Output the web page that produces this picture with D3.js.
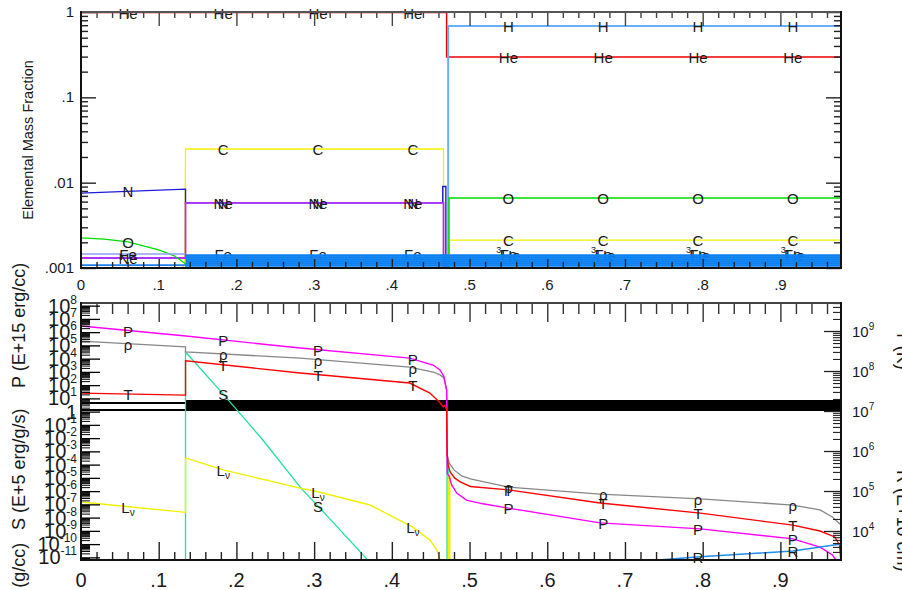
<!DOCTYPE html>
<html><head><meta charset="utf-8">
<script src="https://cdn.jsdelivr.net/npm/d3@7"></script>
<style>
body{margin:0;background:#fff}
svg{display:block}
text{font-family:"Liberation Sans",Arial,Helvetica,sans-serif;fill:#1a1a1a}
</style>
</head><body>
<svg id="c" width="902" height="590"></svg>
<script>
// ---------------- DATA ----------------
const xTicks = [0,0.1,0.2,0.3,0.4,0.5,0.6,0.7,0.8,0.9];
const xTickLabels = ["0",".1",".2",".3",".4",".5",".6",".7",".8",".9"];
const topYTicks = [1,0.1,0.01,0.001];
const topYTickLabels = ["1",".1",".01",".001"];
const leftExponents = [8,7,6,5,4,3,2,1,0,-1,-2,-3,-4,-5,-6,-7,-8,-9,-10,-11];
const rightExponents = [9,8,7,6,5,4];
const labelX = [0.0605,0.183,0.305,0.427,0.550,0.672,0.794,0.916];

// top panel: elemental mass fractions [mass coordinate, fraction]
const heData = [[0,0.985],[0.4705,0.985],[0.4705,0.296],[0.978,0.296]];
const hData  = [[0.4725,0.0005],[0.4725,0.685],[0.978,0.685]];
const cData  = [[0.1,0.0005],[0.1335,0.0011],[0.1345,0.0248],[0.4665,0.0248],[0.4665,0.0005],[0.4738,0.0005],[0.4738,0.00212],[0.978,0.00212]];
const nData  = [[0,0.00755],[0.1345,0.0084],[0.1345,0.0058],[0.4655,0.0058],[0.4655,0.0090],[0.4695,0.0090],[0.4695,0.0005]];
const neData = [[0,0.00131],[0.1345,0.00131],[0.1345,0.0058],[0.4665,0.0058],[0.4665,0.0005]];
const oData  = [[0,0.00225],[0.03,0.00218],[0.0605,0.00202],[0.1,0.00163],[0.12,0.00139],[0.1345,0.00112],[0.136,0.0009]];
const o2Data = [[0.4735,0.0005],[0.4735,0.0066],[0.978,0.0066]];
const feCoreData = [[0,0.00146],[0.1345,0.00146]];
const feCore2Data = [[0,0.00108],[0.1345,0.00108]];
const feBandValues = [0.00140,0.00133,0.00126,0.00119,0.00113,0.00107];
const feBandRange = [0.1345,0.978];

// bottom panel [mass coordinate, value]
const pData = [[0,2.9e6],[0.135,5.1e5],[0.282,6.3e4],[0.423,1.1e4],[0.453,3.3e3],[0.462,1.4e3],[0.467,4.4e2],[0.4705,43],
  [0.4712,2.3e-5],[0.474,1.2e-5],[0.477,2.9e-6],[0.4835,7.2e-7],[0.496,2.1e-7],[0.517,1.1e-7],[0.548,5.4e-8],
  [0.668,4.0e-9],[0.797,1.4e-9],[0.916,2.5e-10],[0.951,6.0e-11],[0.967,1.5e-11],[0.973,4.5e-12]];
const rhoData = [[0,2.1e5],[0.1345,7.6e4],[0.1345,3.2e4],[0.282,1.1e4],[0.423,2.3e3],[0.453,9.8e2],[0.462,5.9e2],[0.467,3.5e2],[0.4705,43],
  [0.4712,5.4e-4],[0.474,1.3e-4],[0.480,4.0e-5],[0.490,1.4e-5],[0.501,8.3e-6],[0.550,2.0e-6],[0.668,6.0e-7],
  [0.797,2.6e-7],[0.916,8.9e-8],[0.951,3.8e-8],[0.967,1.1e-8],[0.978,2.8e-9]];
const tData = [[0,2.8e7],[0.1345,2.5e7],[0.1345,1.8e8],[0.282,8.9e7],[0.423,5.0e7],[0.449,2.8e7],[0.462,1.6e7],[0.466,1.26e7],
  [0.4685,1.4e7],[0.4705,1.07e7],[0.4712,7.9e5],[0.4725,4.5e5],[0.475,3.0e5],[0.481,2.1e5],[0.488,1.7e5],[0.501,1.3e5],
  [0.550,1.07e5],[0.668,5.0e4],[0.797,2.8e4],[0.916,1.4e4],[0.951,1.0e4],[0.970,7.1e3],[0.976,4.5e3],[0.978,1.7e3]];
const sData = [[0.1345,3e-12],[0.1345,3.2e4],[0.183,21],[0.234,7.2e-3],[0.282,2.0e-6],[0.325,4.0e-9],[0.374,3e-12]];
const sSpikeData = [[0.4718,2.2e-4],[0.4718,3e-12]];
const lnuData = [[0,1.5e-7],[0.1345,2.5e-8],[0.1345,3.2e-4],[0.183,4.0e-5],[0.282,1.7e-6],[0.305,9.0e-7],[0.372,8.9e-8],
  [0.427,1.9e-9],[0.449,2.0e-10],[0.458,3.6e-11],[0.463,4e-12]];
const lnuSpikeData = [[0.4735,1.7e-5],[0.4735,3e-12]];
const rData = [[0.72,5e-12],[0.797,1.1e-11],[0.916,3.0e-11],[0.978,1.0e-10]];
const epsCoreLines = [4.5,1.33];
const epsCoreRange = [0,0.1345];
const epsBandX = [0.1345,0.978];
const epsBandLow = [1.12,1.12];
const epsBandHigh = [7.6,7.6];

// ---------------- SCALES ----------------
const svg = d3.select("#c");
const x = d3.scaleLinear().domain([0,0.978]).range([81,841]);
const yTop = d3.scaleLog().domain([0.001,1]).range([268,12]);
const yL = d3.scaleLog().domain([Math.pow(10,-11.2),Math.pow(10,8.2)]).range([560,303]);
const yR = d3.scaleLog().domain([Math.pow(10,3.275),Math.pow(10,9.7)]).range([560,303]);

const defs = svg.append("defs");
defs.append("clipPath").attr("id","clipTop").append("rect").attr("x",81).attr("y",11).attr("width",760).attr("height",258);
defs.append("clipPath").attr("id","clipBot").append("rect").attr("x",81).attr("y",303).attr("width",760).attr("height",257);

function valAt(data,xq){
  for(let i=0;i<data.length-1;i++){
    const [x0,v0]=data[i],[x1,v1]=data[i+1];
    if(x1>x0 && xq>=x0 && xq<=x1){
      const t=(xq-x0)/(x1-x0);
      return Math.pow(10,Math.log10(v0)+t*(Math.log10(v1)-Math.log10(v0)));
    }
  }
  return null;
}

function drawLine(g,data,ys,color,w){
  const line = d3.line().x(d=>x(d[0])).y(d=>ys(d[1]));
  g.append("path").attr("d",line(data)).attr("fill","none").attr("stroke",color).attr("stroke-width",w||1.3);
}

function drawLabels(g,data,ys,text,idx,sub){
  idx.forEach(i=>{
    const xv=labelX[i]; const v=valAt(data,xv); if(v==null) return;
    const t=g.append("text").attr("x",x(xv)).attr("y",ys(v)).attr("text-anchor","middle")
      .attr("dominant-baseline","central").attr("font-size",15);
    t.append("tspan").text(text);
    if(sub) t.append("tspan").attr("font-size",10).attr("dy",5).text(sub);
  });
}

function tickGroup(axisFn,scale,values,size,tr,color,w){
  const g=svg.append("g").attr("transform",tr)
    .call(axisFn(scale).tickValues(values).tickSize(size).tickFormat(()=>""));
  g.select(".domain").remove();
  g.selectAll("line").attr("stroke",color||"#222").attr("stroke-width",w||1.4);
  return g;
}

// ---------------- TOP PANEL ----------------
const gTop = svg.append("g").attr("clip-path","url(#clipTop)");
drawLine(gTop,heData,yTop,"#ee0000",1.5);
drawLine(gTop,hData,yTop,"#66b0ff",2);
drawLine(gTop,cData,yTop,"#f2f200",1.3);
drawLine(gTop,nData,yTop,"#1c1cdc",1.4);
drawLine(gTop,neData,yTop,"#b030ff",1.8);
drawLine(gTop,oData,yTop,"#00dd00",1.3);
drawLine(gTop,o2Data,yTop,"#00dd00",1.5);
drawLine(gTop,feCoreData,yTop,"#8f9cff",1.3);
drawLine(gTop,feCore2Data,yTop,"#1f7ff0",1.6);

const gTopLab = svg.append("g");
drawLabels(gTopLab,heData,yTop,"He",[0,1,2,3,4,5,6,7]);
drawLabels(gTopLab,hData,yTop,"H",[4,5,6,7]);
drawLabels(gTopLab,cData,yTop,"C",[1,2,3,4,5,6,7]);
drawLabels(gTopLab,nData,yTop,"N",[0,1,2,3]);
drawLabels(gTopLab,neData,yTop,"Ne",[0,1,2,3]);
drawLabels(gTopLab,oData,yTop,"O",[0]);
drawLabels(gTopLab,o2Data,yTop,"O",[4,5,6,7]);
drawLabels(gTopLab,feCoreData,yTop,"Fe",[0]);
// Fe labels over the band region
[1,2,3,4,5,6,7].forEach(i=>{
  gTopLab.append("text").attr("x",x(labelX[i])).attr("y",yTop(feBandValues[0])-1).attr("text-anchor","middle")
    .attr("dominant-baseline","central").attr("font-size",15).text("Fe");
  if(i>=4){
    const t=gTopLab.append("text").attr("x",x(labelX[i])).attr("y",yTop(feBandValues[0])-1).attr("text-anchor","middle")
      .attr("dominant-baseline","central").attr("font-size",15);
    t.append("tspan").attr("font-size",9).attr("dy",-5).text("3");
    t.append("tspan").attr("dy",5).text("He");
  }
});
// Fe band (drawn over labels)
const gBand = svg.append("g").attr("clip-path","url(#clipTop)");
feBandValues.forEach(v=>{
  drawLine(gBand,[[feBandRange[0],v],[feBandRange[1],v]],yTop,"#0a80f2",2.6);
});

// top panel axes
tickGroup(d3.axisTop,x,xTicks.slice(1),-14,"translate(0,12)","#444");
tickGroup(d3.axisTop,x,d3.range(0.02,0.98,0.02).filter(v=>Math.abs(v*10-Math.round(v*10))>1e-6),-6,"translate(0,12)","#444");
tickGroup(d3.axisBottom,x,xTicks.slice(1),-9,"translate(0,268)");
tickGroup(d3.axisBottom,x,d3.range(0.02,0.98,0.02).filter(v=>Math.abs(v*10-Math.round(v*10))>1e-6),-6,"translate(0,268)");
const topMinor=[]; [-3,-2,-1].forEach(k=>{for(let m=2;m<=9;m++) topMinor.push(m*Math.pow(10,k));});
tickGroup(d3.axisLeft,yTop,topYTicks,-15,"translate(81,0)");
tickGroup(d3.axisLeft,yTop,topMinor,-7,"translate(81,0)");
tickGroup(d3.axisRight,yTop,topYTicks,-15,"translate(841,0)");
tickGroup(d3.axisRight,yTop,topMinor,-7,"translate(841,0)");
svg.append("line").attr("x1",81).attr("x2",841).attr("y1",12).attr("y2",12).attr("stroke","#555").attr("stroke-width",2);
svg.append("line").attr("x1",81).attr("x2",841).attr("y1",268).attr("y2",268).attr("stroke","#111").attr("stroke-width",2);
svg.append("line").attr("x1",81).attr("x2",81).attr("y1",11).attr("y2",269).attr("stroke","#111").attr("stroke-width",2);
svg.append("line").attr("x1",841).attr("x2",841).attr("y1",11).attr("y2",269).attr("stroke","#111").attr("stroke-width",2);

topYTicks.forEach((v,i)=>{
  svg.append("text").attr("x",74).attr("y",yTop(v)+5).attr("text-anchor","end").attr("font-size",15).text(topYTickLabels[i]);
});
xTicks.forEach((v,i)=>{
  svg.append("text").attr("x",x(v)).attr("y",290).attr("text-anchor","middle").attr("font-size",15).text(xTickLabels[i]);
});
svg.append("text").attr("transform","translate(33,140) rotate(-90)").attr("text-anchor","middle")
  .attr("font-size",14.5).text("Elemental Mass Fraction");

// ---------------- BOTTOM PANEL ----------------
const gBot = svg.append("g").attr("clip-path","url(#clipBot)");
// energy generation band
epsCoreLines.forEach(v=>drawLine(gBot,[[epsCoreRange[0],v],[epsCoreRange[1],v]],yL,"#000",2));
gBot.append("path").datum(epsBandX.map((xv,i)=>[xv,epsBandLow[i],epsBandHigh[i]]))
  .attr("d",d3.area().x(d=>x(d[0])).y0(d=>yL(d[1])).y1(d=>yL(d[2])))
  .attr("fill","#000");
drawLine(gBot,sData,yL,"#22e0a0",1.3);
drawLine(gBot,sSpikeData,yL,"#22e0a0",2.5);
drawLine(gBot,lnuData,yL,"#f0f000",1.4);
drawLine(gBot,lnuSpikeData,yL,"#f0f000",3);
drawLine(gBot,rhoData,yL,"#888888",1.3);
drawLine(gBot,pData,yL,"#ff00ff",1.4);
drawLine(gBot,tData,yR,"#ff0000",1.4);
drawLine(gBot,rData,yL,"#1e8cf0",1.5);

const gBotLab = svg.append("g");
drawLabels(gBotLab,pData,yL,"P",[0,1,2,3,4,5,6,7]);
drawLabels(gBotLab,rhoData,yL,"ρ",[0,1,2,3,4,5,6,7]);
drawLabels(gBotLab,tData,yR,"T",[0,1,2,3,4,5,6,7]);
drawLabels(gBotLab,sData,yL,"S",[1,2]);
drawLabels(gBotLab,lnuData,yL,"L","ν"==="" ? null : [0,1,2,3],"ν");
drawLabels(gBotLab,rData,yL,"R",[6,7]);

// bottom axes
tickGroup(d3.axisTop,x,xTicks.slice(1),-19,"translate(0,303)","#333");
tickGroup(d3.axisTop,x,d3.range(0.02,0.98,0.02).filter(v=>Math.abs(v*10-Math.round(v*10))>1e-6),-11,"translate(0,303)","#333");
tickGroup(d3.axisBottom,x,xTicks.slice(1),-18,"translate(0,560)");
tickGroup(d3.axisBottom,x,d3.range(0.02,0.98,0.02).filter(v=>Math.abs(v*10-Math.round(v*10))>1e-6),-8,"translate(0,560)");
const leftMajor = leftExponents.map(e=>Math.pow(10,e));
const leftMinor=[]; for(let k=-12;k<=8;k++){for(let m=2;m<=9;m++){const v=m*Math.pow(10,k); if(v>Math.pow(10,-11.2)&&v<Math.pow(10,8.2)) leftMinor.push(v);}}
tickGroup(d3.axisLeft,yL,leftMinor,-9,"translate(81,0)","#000",1);
tickGroup(d3.axisLeft,yL,leftMajor,-19,"translate(81,0)","#000",1.3);
const rightMajor = rightExponents.map(e=>Math.pow(10,e));
const rightMinor=[]; for(let k=3;k<=9;k++){for(let m=2;m<=9;m++){const v=m*Math.pow(10,k); if(v>Math.pow(10,3.275)&&v<Math.pow(10,9.7)) rightMinor.push(v);}}
tickGroup(d3.axisRight,yR,rightMinor,-8,"translate(841,0)","#222",1.1);
tickGroup(d3.axisRight,yR,rightMajor,-17,"translate(841,0)","#222",1.3);
svg.append("line").attr("x1",81).attr("x2",841).attr("y1",303).attr("y2",303).attr("stroke","#444").attr("stroke-width",2);
svg.append("line").attr("x1",81).attr("x2",841).attr("y1",560).attr("y2",560).attr("stroke","#111").attr("stroke-width",2);
svg.append("line").attr("x1",81).attr("x2",81).attr("y1",302).attr("y2",561).attr("stroke","#111").attr("stroke-width",2);
svg.append("line").attr("x1",841).attr("x2",841).attr("y1",302).attr("y2",561).attr("stroke","#111").attr("stroke-width",2);

leftExponents.forEach(e=>{
  const t=svg.append("text").attr("x",77).attr("y",yL(Math.pow(10,e))+7).attr("text-anchor","end").attr("font-size",20);
  if(e===0){ t.text("1"); }
  else { t.append("tspan").text("10"); t.append("tspan").attr("font-size",12).attr("dy",-9).text(String(e).replace("-","-")); }
});
rightExponents.forEach(e=>{
  const t=svg.append("text").attr("x",852).attr("y",yR(Math.pow(10,e))+6).attr("font-size",15);
  t.append("tspan").text("10"); t.append("tspan").attr("font-size",10).attr("dy",-7).text(String(e));
});
xTicks.forEach((v,i)=>{
  svg.append("text").attr("x",x(v)).attr("y",587).attr("text-anchor","middle").attr("font-size",20).text(xTickLabels[i]);
});
svg.append("text").attr("transform","translate(25,388) rotate(-90)").attr("font-size",18).text("P (E+15 erg/cc)");
svg.append("text").attr("transform","translate(25,530) rotate(-90)").attr("font-size",18).text("S (E+5 erg/g/s)");
svg.append("text").attr("transform","translate(25,603) rotate(-90)").attr("font-size",18).text("ρ (g/cc)");
svg.append("text").attr("transform","translate(897,330) rotate(90)").attr("font-size",18).text("T (K)");
svg.append("text").attr("transform","translate(897,470) rotate(90)").attr("font-size",18).text("R (E+10 cm)");
</script>
</body></html>
